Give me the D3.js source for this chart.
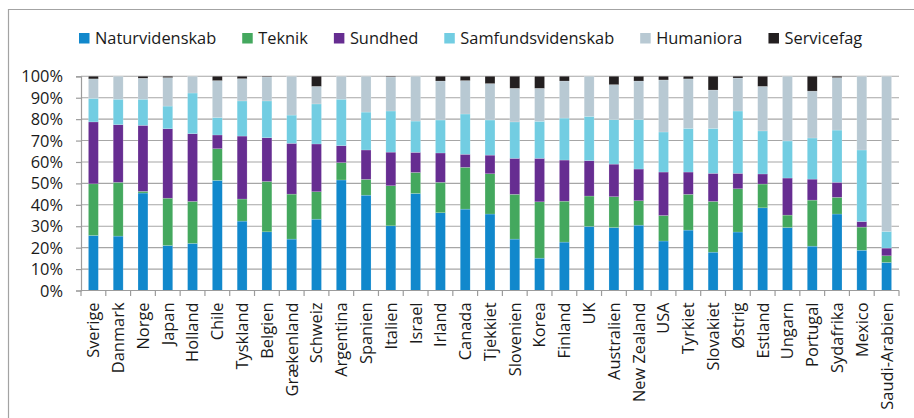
<!DOCTYPE html>
<html><head><meta charset="utf-8">
<script src="https://cdn.jsdelivr.net/npm/d3@7"></script>
<style>
html,body{margin:0;padding:0;background:#fff;}
svg{display:block;font-family:"Open Sans",sans-serif;}
</style></head>
<body>
<svg id="c" width="914" height="418"></svg>
<script>
const countries = ["Sverige","Danmark","Norge","Japan","Holland","Chile","Tyskland","Belgien","Grækenland","Schweiz","Argentina","Spanien","Italien","Israel","Irland","Canada","Tjekkiet","Slovenien","Korea","Finland","UK","Australien","New Zealand","USA","Tyrkiet","Slovakiet","Østrig","Estland","Ungarn","Portugal","Sydafrika","Mexico","Saudi-Arabien"];
const seriesNames = ["Naturvidenskab","Teknik","Sundhed","Samfundsvidenskab","Humaniora","Servicefag"];
const naturvidenskab = [25.7,25.4,45.5,21.0,22.0,51.4,32.4,27.4,24.0,33.3,51.6,44.5,30.2,45.3,36.3,38.0,35.7,24.0,15.1,22.6,29.9,29.4,30.5,23.1,28.2,17.9,27.3,38.6,29.4,20.7,35.7,18.8,13.1];
const teknik = [24.1,25.1,0.8,22.1,19.6,14.8,10.3,23.5,21.0,12.8,8.1,7.4,18.7,9.8,14.2,19.5,18.8,20.9,26.3,19.1,14.2,14.4,11.4,11.9,16.7,23.7,20.2,11.1,5.8,21.5,7.8,10.8,3.1];
const sundhed = [28.9,26.9,30.8,32.4,31.6,6.4,29.4,20.4,23.7,22.3,7.9,13.7,15.7,9.4,13.7,6.1,8.7,16.8,20.3,19.2,16.5,15.2,14.8,20.3,10.4,13.1,7.2,4.7,17.3,9.8,7.0,2.6,3.6];
const samfundsvidenskab = [11.0,11.9,12.2,10.6,19.0,8.2,16.4,17.2,13.2,18.7,21.7,17.7,19.2,14.6,15.4,18.8,16.4,17.0,17.3,19.6,20.7,20.8,23.1,18.7,20.4,21.0,29.1,20.1,17.3,19.2,24.4,33.4,7.8];
const humaniora = [9.1,10.7,9.8,13.3,7.8,17.2,10.4,11.2,18.1,8.2,10.7,16.7,15.9,20.9,18.2,15.6,17.0,15.7,15.4,17.3,18.7,16.3,18.0,24.3,23.1,17.9,15.4,20.8,30.2,21.9,24.5,34.4,72.4];
const servicefag = [1.2,0,0.9,0.6,0,2.0,1.1,0.3,0,4.7,0,0,0.3,0,2.2,2.0,3.4,5.6,5.6,2.2,0,3.9,2.2,1.7,1.2,6.4,0.8,4.7,0,6.9,0.6,0,0];
const yTicks = [0,10,20,30,40,50,60,70,80,90,100];

const colors = ["#1188cc","#44a85e","#662d91","#72cde2","#b8c9d3","#231f20"];
const seriesValues = [naturvidenskab,teknik,sundhed,samfundsvidenskab,humaniora,servicefag];

const rows = countries.map((c,i)=>{
  const r = {country:c};
  seriesNames.forEach((s,j)=>{ r[s] = seriesValues[j][i]; });
  return r;
});

const svg = d3.select("#c");
const plotLeft = 81, plotRight = 899, plotTop = 76.3, plotBottom = 290.5;
const FS = 16.4;

// frame
svg.append("path").attr("d",`M8.5,418 L8.5,9.5 L914,9.5`).attr("fill","none").attr("stroke","#a3a3a3").attr("stroke-width",1.2);

const x = d3.scaleBand().domain(countries).range([plotLeft,plotRight]).paddingInner(0.6).paddingOuter(0.3);
const y = d3.scaleLinear().domain([0,100]).range([plotBottom,plotTop]);

// gridlines
svg.append("g").selectAll("line").data(yTicks.slice(1)).join("line")
  .attr("x1",plotLeft).attr("x2",plotRight).attr("y1",d=>y(d)).attr("y2",d=>y(d))
  .attr("stroke","#a6a6a6").attr("stroke-width",1.1);

// bars
const stack = d3.stack().keys(seriesNames)(rows);
svg.append("g").selectAll("g").data(stack).join("g")
  .attr("fill",(d,i)=>colors[i])
  .selectAll("rect").data(d=>d).join("rect")
  .attr("x",d=>x(d.data.country))
  .attr("width",x.bandwidth())
  .attr("y",d=>y(d[1]))
  .attr("height",d=>Math.max(0,y(d[0])-y(d[1])))
  .attr("stroke","rgba(255,255,255,0.35)").attr("stroke-width",0.5);

// y axis
const yAxis = d3.axisLeft(y).tickValues(yTicks).tickFormat(d=>d+"%").tickSize(5).tickPadding(13);
const gy = svg.append("g").attr("transform",`translate(${plotLeft},0)`).call(yAxis);
gy.select(".domain").attr("stroke","#9c9c9c").attr("stroke-width",1.2);
gy.selectAll(".tick line").attr("stroke","#9c9c9c").attr("stroke-width",1.2);
gy.selectAll("text").attr("font-size",FS).attr("fill","#1a1a1a").attr("font-family","Open Sans").attr("dy","0.34em");

// x axis
svg.append("line").attr("x1",plotLeft).attr("x2",plotRight).attr("y1",plotBottom).attr("y2",plotBottom).attr("stroke","#9c9c9c").attr("stroke-width",1.2);
const bounds = d3.range(countries.length+1).map(i=>plotLeft + i*x.step());
svg.append("g").selectAll("line").data(bounds).join("line")
  .attr("x1",d=>d).attr("x2",d=>d).attr("y1",plotBottom).attr("y2",plotBottom+5.5)
  .attr("stroke","#9c9c9c").attr("stroke-width",1.2);
svg.append("g").selectAll("text").data(countries).join("text")
  .attr("transform",d=>`translate(${x(d)+x.bandwidth()/2},302.5) rotate(-90)`)
  .attr("text-anchor","end").attr("dy","0.36em")
  .attr("font-size",FS).attr("fill","#1a1a1a")
  .text(d=>d);

// legend
const lg = svg.append("g");
let lx = 79;
seriesNames.forEach((s,i)=>{
  lg.append("rect").attr("x",lx).attr("y",33).attr("width",10.5).attr("height",10.5).attr("fill",colors[i]);
  const t = lg.append("text").attr("x",lx+16).attr("y",44).attr("font-size",FS).attr("fill","#1a1a1a").text(s);
  lx = lx + 16 + t.node().getComputedTextLength() + 26;
});
</script>
</body></html>
